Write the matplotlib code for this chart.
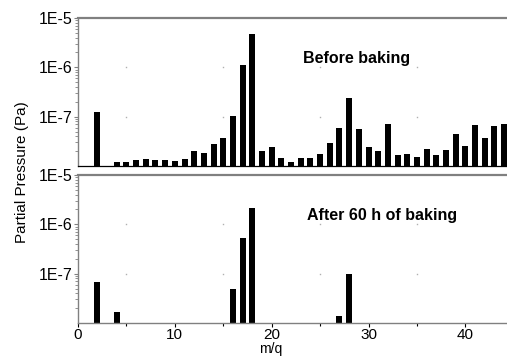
import math
import matplotlib
matplotlib.use("Agg")
import matplotlib.pyplot as plt
from matplotlib.ticker import FixedLocator, FuncFormatter, LogLocator, NullFormatter

plt.rcParams['font.family'] = ['Liberation Sans', 'DejaVu Sans']

# Mass spectrum before baking (m/q, partial pressure in Pa)
mq_before = [2, 4, 5, 6, 7, 8, 9, 10, 11, 12, 13, 14, 15, 16, 17, 18,
             19, 20, 21, 22, 23, 24, 25, 26, 27, 28, 29, 30, 31, 32, 33,
             34, 35, 36, 37, 38, 39, 40, 41, 42, 43, 44]
p_before = [1.26e-7, 1.19e-8, 1.19e-8, 1.31e-8, 1.37e-8, 1.3e-8, 1.3e-8,
            1.26e-8, 1.4e-8, 1.99e-8, 1.81e-8, 2.83e-8, 3.75e-8, 1.02e-7,
            1.1e-6, 4.7e-6,
            2.0e-8, 2.43e-8, 1.47e-8, 1.22e-8, 1.43e-8, 1.43e-8, 1.73e-8,
            2.93e-8, 5.9e-8, 2.36e-7, 5.7e-8, 2.43e-8, 2.0e-8, 7.0e-8,
            1.67e-8, 1.78e-8, 1.52e-8, 2.21e-8, 1.67e-8, 2.08e-8, 4.4e-8,
            2.5e-8, 6.8e-8, 3.65e-8, 6.4e-8, 7.0e-8]

# Mass spectrum after 60 h of baking
mq_after = [2, 4, 16, 17, 18, 27, 28]
p_after = [6.7e-8, 1.67e-8, 4.9e-8, 5.3e-7, 2.18e-6, 1.39e-8, 1.0e-7]

p_floor = 1e-8
y_major = [1e-7, 1e-6, 1e-5]
x_major = [0, 10, 20, 30, 40]
x_minor = [5, 15, 25, 35]

W, H = 507, 357
fig = plt.figure(figsize=(W / 100, H / 100), dpi=100)

left = 78 / W
ax_top = fig.add_axes([left, 1 - 166 / H, 1 - left, (166 - 18) / H])
ax_bot = fig.add_axes([left, 1 - 323 / H, 1 - left, (323 - 175) / H])

spine_gray = '#808080'

def sci_label(v, _pos):
    return f"1E{int(round(math.log10(v)))}"

for ax, mq, p in ((ax_top, mq_before, p_before), (ax_bot, mq_after, p_after)):
    ax.bar(mq, [v - p_floor for v in p], width=0.62, bottom=p_floor,
           color='black', linewidth=0)
    ax.set_yscale('log')
    ax.set_ylim(p_floor, 1e-5)
    ax.set_xlim(0, 44.3)
    ax.yaxis.set_major_locator(FixedLocator(y_major))
    ax.yaxis.set_major_formatter(FuncFormatter(sci_label))
    ax.yaxis.set_minor_locator(LogLocator(base=10, subs=range(2, 10)))
    ax.yaxis.set_minor_formatter(NullFormatter())
    ax.tick_params(axis='y', which='major', direction='out', length=3,
                   width=0.8, color=spine_gray, labelsize=11.5, pad=1)
    ax.tick_params(axis='y', which='minor', direction='out', length=2,
                   width=0.6, color=spine_gray)
    ax.spines['right'].set_visible(False)
    ax.spines['left'].set_color(spine_gray)
    ax.spines['left'].set_linewidth(1.0)
    ax.spines['top'].set_color(spine_gray)
    ax.spines['top'].set_linewidth(1.6)
    # sparse grid dots at minor x positions and major y levels
    for gx in x_minor:
        for gy in y_major[:2]:
            ax.plot(gx, gy, marker='s', ms=1.0, color='#b0b0b0', mec='none')

ax_top.spines['bottom'].set_color('black')
ax_top.spines['bottom'].set_linewidth(0.9)
ax_top.set_xticks([])

ax_bot.spines['bottom'].set_color(spine_gray)
ax_bot.spines['bottom'].set_linewidth(1.0)
ax_bot.xaxis.set_major_locator(FixedLocator(x_major))
ax_bot.xaxis.set_minor_locator(FixedLocator(x_minor))
ax_bot.tick_params(axis='x', which='major', direction='out', length=3,
                   width=0.8, color='black', labelsize=11, pad=0.5)
ax_bot.tick_params(axis='x', which='minor', direction='out', length=2,
                   width=0.8, color='black')

fig.text(357 / W, 1 - 58 / H, 'Before baking',
         ha='center', va='center', fontsize=11.5, fontweight='bold')
fig.text(382 / W, 1 - 216 / H, 'After 60 h of baking',
         ha='center', va='center', fontsize=11.5, fontweight='bold')

fig.text(22 / W, 1 - 172 / H, 'Partial Pressure (Pa)', rotation=90,
         ha='center', va='center', fontsize=11)
fig.text(271 / W, 1 / H, 'm/q', ha='center', va='bottom', fontsize=10)

fig.savefig('out.png', dpi=100)
